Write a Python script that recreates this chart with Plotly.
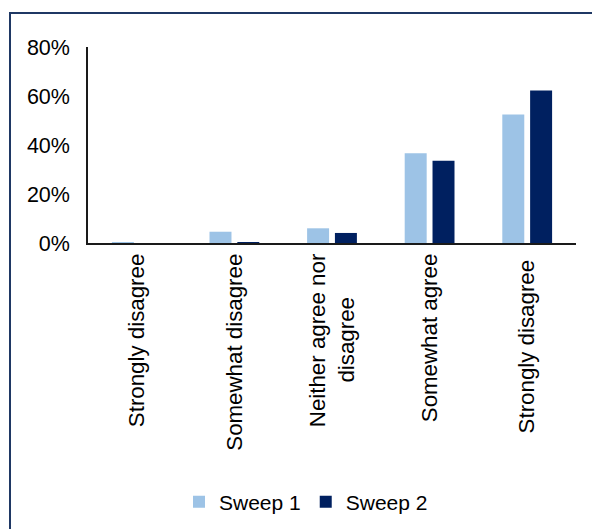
import plotly.graph_objects as go

categories = ["Strongly disagree", "Somewhat disagree",
              "Neither agree nor<br>disagree" + "\u00a0" * 7,
              "Somewhat agree", "Strongly disagree "]
sweep1 = [0.3, 4.6, 6.0, 36.6, 52.4]
sweep2 = [0.0, 0.4, 4.1, 33.6, 62.2]
y_ticks = [0, 20, 40, 60, 80]
y_tick_labels = ["0%", "20%", "40%", "60%", "80%"]

W, H = 592, 529
L, R, T, B = 88, 16, 47, 286
pw, ph = W - L - R, H - T - B

def px_x(x):
    return (x - L) / pw

def px_y(y):
    return (H - B - y) / ph

fig = go.Figure()
fig.add_bar(name="Sweep 1", x=categories, y=sweep1, marker_color="#9DC3E6",
            marker_line_width=0)
fig.add_bar(name="Sweep 2", x=categories, y=sweep2, marker_color="#002060",
            marker_line_width=0)

fig.update_layout(
    width=W, height=H,
    margin=dict(l=L, r=R, t=T, b=B, autoexpand=False),
    paper_bgcolor="white", plot_bgcolor="white",
    barmode="group", bargap=0.43, bargroupgap=0.21,
    font=dict(family="Liberation Sans, Arial, sans-serif", color="#000000", size=21),
    showlegend=True,
    legend=dict(orientation="h", x=px_x(306), xanchor="center", y=px_y(502),
                yanchor="middle", font=dict(size=21), bgcolor="rgba(0,0,0,0)",
                itemwidth=30, traceorder="normal"),
    xaxis=dict(showline=True, linecolor="#1a1a1a", linewidth=1.5, tickangle=-90,
               ticks="", showgrid=False, tickfont=dict(size=22.3), fixedrange=True),
    yaxis=dict(range=[0, 80], tickvals=y_ticks, ticktext=y_tick_labels,
               showline=True, linecolor="#1a1a1a", linewidth=1.5, ticks="",
               showgrid=False, zeroline=False, ticklabelstandoff=12,
               tickfont=dict(size=21.5)),
    shapes=[dict(type="rect", xref="paper", yref="paper",
                 x0=px_x(10), x1=px_x(610), y0=px_y(560), y1=px_y(13),
                 line=dict(color="#1F3864", width=2), fillcolor="rgba(0,0,0,0)",
                 layer="below")],
)

fig.write_html("out.html")
